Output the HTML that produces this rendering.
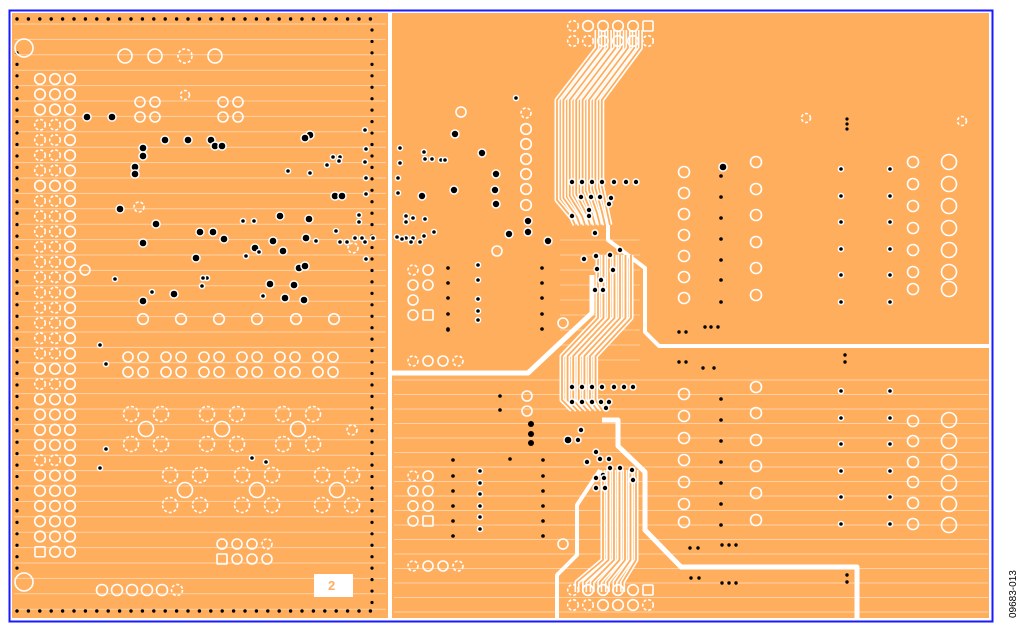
<!DOCTYPE html>
<html><head><meta charset="utf-8"><style>
html,body{margin:0;padding:0;background:#fff;width:1024px;height:636px;overflow:hidden}
svg{display:block}
</style></head><body>
<svg id="s" width="1024" height="636" xmlns="http://www.w3.org/2000/svg" font-family="Liberation Sans, sans-serif">
<rect x="0" y="0" width="1024" height="636" fill="#fff"/>
<rect x="12" y="13" width="376" height="605" fill="#FFAE5E"/>
<rect x="392" y="13" width="597" height="605" fill="#FFAE5E"/>
<rect x="9.5" y="10.5" width="983" height="611" fill="none" stroke="#1a1aff" stroke-width="2"/>
<g id="g"></g>
<rect x="314" y="574" width="39" height="23" fill="#fff"/>
<text x="328" y="590" font-size="13" font-weight="bold" fill="#FFAE5E">2</text>
<text transform="translate(1016,618) rotate(-90)" font-size="10" fill="#000">09683-013</text>
</svg>
<script>
var g=document.getElementById('g'),h='';
var W='#fff';
function c(x,y,r,dash){h+='<circle cx="'+x+'" cy="'+y+'" r="'+r+'" fill="none" stroke="#fff" stroke-width="1.6"'+(dash?' stroke-dasharray="3 2"':'')+'/>';}
function d(x,y,r,ring){if(ring)h+='<circle cx="'+x+'" cy="'+y+'" r="'+(r+1.5)+'" fill="#fff"/>';h+='<circle cx="'+x+'" cy="'+y+'" r="'+r+'" fill="#000"/>';}
function sq(x,y,s){h+='<rect x="'+(x-s)+'" y="'+(y-s)+'" width="'+2*s+'" height="'+2*s+'" fill="none" stroke="#fff" stroke-width="1.6" rx="1"/>';}
function ln(x1,y1,x2,y2,w,col,op){h+='<line x1="'+x1+'" y1="'+y1+'" x2="'+x2+'" y2="'+y2+'" stroke="'+(col||W)+'" stroke-width="'+(w||1)+'"'+(op?' opacity="'+op+'"':'')+'/>';}
function pl(pts,w,col){h+='<polyline points="'+pts+'" fill="none" stroke="'+(col||W)+'" stroke-width="'+w+'" stroke-linejoin="round"/>';}
for(var y=24;y<615;y+=15.4)ln(14,y,386,y,1,W,0.45);
for(var y=380;y<615;y+=14.5)ln(394,y,988,y,1,W,0.45);
for(var y=240;y<370;y+=15)ln(560,y,640,y,1,W,0.4);
ln(390,13,390,618,3);
pl('392,373 528,373 592,313 592,275',5);
pl('608,212 608,240 645,268 645,332 659,346 989,346',4);
pl('602,420 618,420 618,446 645,472 645,530 681,567 857,567 857,618',5);
pl('600,470 577,505 577,555 557,575 557,618',4);
function bundle(fn,n){for(var i=0;i<n;i++){pl(fn(i),5);}for(var i=0;i<n;i++){pl(fn(i),1.8,'#FFAE5E');}}
bundle(function(i){var x0=597+i*6.2;return x0+',30 '+x0+',48 '+(557+i*6.4)+',100 '+(557+i*6.4)+','+(200-i*2)+' '+(572+i*5)+','+(218-i)+' '+(575+i*5)+',225';},8);
bundle(function(i){var x0=598+i*5.5;return x0+',255 '+x0+',318 '+(562+i*5.6)+',356 '+(562+i*5.6)+',400 '+(572+i*5)+',410';},7);
bundle(function(i){var x0=603+i*5.5;return x0+',470 '+x0+',560 '+(577+i*7.6)+',582 '+(577+i*7.6)+',592';},7);
for(var x=17;x<=376;x+=11.4){d(x,19,1.7);d(x,611,1.7);}
for(var y=30;y<606;y+=11.45)d(372,y,1.6);
for(var y=30;y<606;y+=11.45)if(y>50&&y<570)d(17,y,1.6);
c(24,48,9);c(24,582,9);
for(var r=0;r<32;r++){var y=79+r*15.25;for(var k=0;k<3;k++){var dash=[3,4,5,6,8,9,10,11,12,13,14,15,16,17,18,20,25].indexOf(r)>=0&&k<2;if(r==31&&k==0)sq(40,y,5);else c(40+k*15,y,5.3,dash);}}
c(125,56,7);c(155,56,7);c(185,56,7,1);c(215,56,7);c(185,95,4.5,1);
[[140,102],[155,102],[140,117],[155,117],[223,102],[238,102],[223,117],[238,117]].forEach(function(p){c(p[0],p[1],5);});
c(85,270,5);c(139,207,5,1);c(353,248,5,1);c(352,430,5,1);
[143,181,219,257,296,334].forEach(function(x){c(x,319,5.3);});
[128,143,166,181,204,219,242,257,280,295,318,333].forEach(function(x){c(x,357,5);c(x,372,5);});
function fl(x,y){c(x,y,7.5);[[-15,-15],[15,-15],[-15,15],[15,15]].forEach(function(o){c(x+o[0],y+o[1],7.5,1);});}
fl(146,429);fl(222,429);fl(298,429);fl(185,490);fl(257,490);fl(337,490);
[222,237,252,267].forEach(function(x,i){c(x,544,5,i==3);});sq(222,559,5);[237,252,267].forEach(function(x){c(x,559,5);});
[102,117,132,147,162,177].forEach(function(x,i){c(x,590,5.5,i==5);});
[[87,117],[112,117],[165,140],[188,140],[211,140],[215,146],[222,146],[143,148],[143,156],[135,167],[135,174],[120,209],[156,224],[143,243],[200,232],[213,232],[224,239],[196,258],[174,294],[143,301],[255,248],[273,241],[280,216],[309,219],[306,238],[283,251],[299,268],[304,300],[285,298],[294,285],[305,266],[270,284],[310,135],[305,138],[335,196],[342,196]].forEach(function(p){d(p[0],p[1],3.3,true);});
[[115,279],[152,292],[207,278],[203,278],[202,286],[246,256],[259,252],[243,221],[254,221],[288,171],[310,173],[327,165],[333,157],[340,157],[339,161],[316,241],[336,231],[340,242],[347,242],[355,238],[362,238],[373,238],[365,242],[263,296],[100,345],[106,364],[106,449],[100,468],[266,462],[252,458],[365,130],[366,149],[365,162],[366,178],[366,194],[359,215],[359,222],[366,259]].forEach(function(p){d(p[0],p[1],1.8,true);});
[[573,26],[588,26],[603,26],[618,26],[633,26],[573,41],[588,41],[603,41],[618,41],[633,41],[648,41]].forEach(function(p){c(p[0],p[1],5.3,p[0]==573||(p[0]==588&&p[1]==41)||p[0]==648);});sq(648,26,5);
c(461,112,5);c(526,113,5,1);[129,144,159,174,189,205].forEach(function(y){c(526,y,5.3);});
c(497,251,5);c(563,323,5);c(563,544,5);
[[455,134],[482,153],[454,190],[496,174],[495,190],[422,196],[496,204],[528,221],[528,232],[509,234],[548,241]].forEach(function(p){d(p[0],p[1],3.2,true);});
[[516,98],[400,148],[400,163],[398,178],[398,193],[424,152],[432,159],[441,160],[445,160],[425,159],[406,216],[406,222],[413,218],[425,219],[406,238],[413,238],[420,242],[424,236],[434,232],[397,237],[402,239],[411,242]].forEach(function(p){d(p[0],p[1],1.8,true);});
[[413,270],[428,270],[413,285],[428,285],[413,300]].forEach(function(p,i){c(p[0],p[1],5,i==0);});sq(428,315,5);c(413,315,5);
[413,428,443,458].forEach(function(x,i){c(x,361,5,i==0||i==3);});
[268,283,298,314,329].forEach(function(y){d(448,y,1.8);d(542,y,1.8);});d(448,330,1.8);
[265,280,299,311,320].forEach(function(y){d(478,y,1.8,true);});
[172,193,214,235,256,277,298].forEach(function(y){c(684,y,5.5);});
[162,189,215,242,268,295].forEach(function(y){c(756,y,5.5);});
d(723,167,3.3,true);[176,197,218,239,260,280,302].forEach(function(y){d(721,y,1.8);});
[169,196,222,249,275,302].forEach(function(y){d(841,y,1.8,true);d(890,y,1.8,true);});
[162,184,206,228,250,272,289].forEach(function(y,i){c(913,y,5.5);c(949,y,7.5);});
c(806,118,4.5,1);c(962,121,4.5,1);d(847,119,1.6);d(847,124,1.6);d(847,129,1.6);
[[679,332],[686,332],[705,327],[711,327],[718,327],[679,362],[686,362],[703,368],[714,368],[845,355],[845,362]].forEach(function(p){d(p[0],p[1],1.7);});
[[572,182],[582,182],[592,182],[602,182],[614,182],[626,182],[636,182],[581,197],[591,197],[600,197],[611,198],[609,204],[589,210],[572,216],[589,216],[595,233],[584,259],[596,256],[610,255],[620,250],[597,269],[601,280],[613,270],[595,290],[603,290],[572,387],[582,387],[592,387],[602,387],[614,387],[624,387],[633,387],[572,402],[582,402],[592,402],[601,402],[606,408],[609,402],[581,430],[578,440],[596,452],[587,462],[600,459],[609,459],[610,468],[620,468],[603,475],[596,478],[604,478],[596,488],[605,488],[632,470],[633,480]].forEach(function(p){d(p[0],p[1],2.2,true);});
d(568,440,3.3,true);
c(527,396,5);c(527,411,5);d(531,424,3);d(531,434,3);d(531,443,3);d(500,396,1.8);d(500,410,1.8);d(510,459,1.8);
[[413,476],[428,476],[413,491],[428,491],[413,506],[428,506],[413,521]].forEach(function(p,i){c(p[0],p[1],5,i==0);});sq(428,521,5);
[413,428,443,458].forEach(function(x,i){c(x,566,5,i==0||i==3);});
[460,476,491,506,521,536].forEach(function(y){d(453,y,1.8);d(543,y,1.8);});
[471,483,494,506,517,529].forEach(function(y){d(480,y,1.8,true);});
[394,416,438,460,482,504,522].forEach(function(y){c(684,y,5.5);});
[387,413,440,466,493,520].forEach(function(y){c(756,y,5.5);});
[399,420,441,462,483,504,525].forEach(function(y){d(721,y,1.8);});
[391,418,444,471,497,524].forEach(function(y){d(841,y,1.8,true);d(890,y,1.8,true);});
[421,441,462,482,503,524].forEach(function(y){c(913,y,5.5);});
[420,441,462,483,504,525].forEach(function(y){c(949,y,7.5);});
[[690,548],[698,548],[722,545],[729,545],[736,545],[691,578],[699,578],[722,583],[729,583],[736,583],[847,575],[847,582]].forEach(function(p){d(p[0],p[1],1.7);});
[[573,590],[588,590],[603,590],[618,590],[633,590],[573,605],[588,605],[603,605],[618,605],[633,605],[648,605]].forEach(function(p){c(p[0],p[1],5.3,p[0]==573||(p[0]==588&&p[1]==605)||p[0]==648);});sq(648,590,5);
g.innerHTML=h;
</script>
</body></html>
